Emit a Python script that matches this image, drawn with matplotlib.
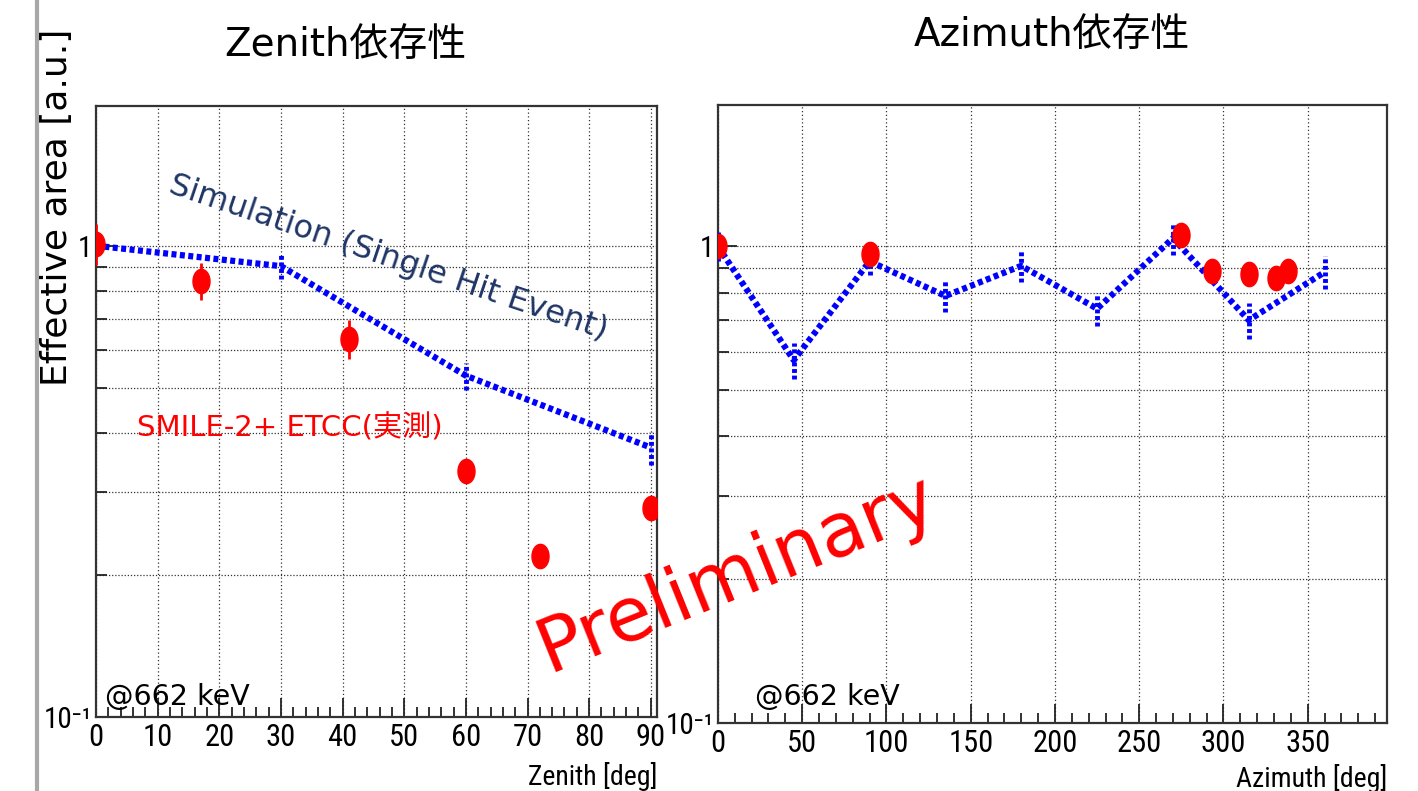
import numpy as np
import matplotlib
matplotlib.use("Agg")
import matplotlib.pyplot as plt
from matplotlib.path import Path
from matplotlib.lines import Line2D
from matplotlib.ticker import FixedLocator, FixedFormatter, NullFormatter

# ---- data ----
# zenith dependence
zen_meas_x = [0, 17, 41, 60, 72, 90]
zen_meas_y = [1.01, 0.843, 0.635, 0.332, 0.220, 0.277]
zen_meas_err = [0.10, 0.075, 0.06, 0.012, 0.010, 0.012]

zen_sim_x = [0, 30, 60, 90]
zen_sim_y = [1.00, 0.905, 0.53, 0.373]
zen_sim_err = [0.05, 0.055, 0.035, 0.03]

# azimuth dependence
azi_meas_x = [0, 90, 275, 293, 315, 331, 338]
azi_meas_y = [1.0, 0.966, 1.055, 0.886, 0.875, 0.857, 0.886]
azi_meas_err = [0.02, 0.02, 0.02, 0.02, 0.02, 0.02, 0.02]

azi_sim_x = [0, 45, 90, 135, 180, 225, 270, 315, 360]
azi_sim_y = [1.0, 0.577, 0.93, 0.787, 0.91, 0.74, 1.04, 0.70, 0.883]
azi_sim_err = [0.07, 0.05, 0.06, 0.06, 0.07, 0.06, 0.08, 0.06, 0.07]

zen_ticks = [0, 10, 20, 30, 40, 50, 60, 70, 80, 90]
azi_ticks = [0, 50, 100, 150, 200, 250, 300, 350]
y_major = [0.1, 1]
y_major_labels = ["10\u207b\u00b9", "1"]
y_minor = [0.2, 0.3, 0.4, 0.5, 0.6, 0.7, 0.8, 0.9]

# ---- styles ----
cjk = ["DejaVu Sans", "Noto Sans CJK JP"]
narrow = ["Liberation Sans Narrow", "Roboto Condensed", "DejaVu Sans"]
sim_ls = (0, (0.8, 0.55))

# red markers in the picture are tall ellipses
t = np.linspace(0, 2 * np.pi, 60)
ellipse = Path(np.column_stack([0.7 * np.cos(t), np.sin(t)]), closed=True)


def style_axes(ax, xmax, major, minor_step):
    ax.set_yscale("log")
    ax.set_xlim(0, xmax)
    ax.set_ylim(0.1, 1.98)
    ax.xaxis.set_major_locator(FixedLocator(major))
    ax.xaxis.set_minor_locator(FixedLocator(np.arange(0, xmax, minor_step)))
    ax.yaxis.set_major_locator(FixedLocator(y_major))
    ax.yaxis.set_major_formatter(FixedFormatter(y_major_labels))
    ax.yaxis.set_minor_locator(FixedLocator(y_minor))
    ax.yaxis.set_minor_formatter(NullFormatter())
    ax.tick_params(which="both", direction="in", top=False, right=False,
                   color="#222222", width=1.3)
    ax.tick_params(axis="x", which="major", length=14, pad=4)
    ax.tick_params(axis="x", which="minor", length=7)
    ax.tick_params(axis="y", which="major", length=14, pad=3)
    ax.tick_params(axis="y", which="minor", length=8)
    for lab in ax.get_xticklabels():
        lab.set_family(narrow)
        lab.set_stretch("condensed")
        lab.set_fontsize(22)
    for lab in ax.get_yticklabels():
        lab.set_family(narrow)
        lab.set_stretch("condensed")
        lab.set_fontsize(21)
    ax.grid(which="major", axis="x", ls=(0, (1, 2)), color="#333333", lw=0.9)
    ax.grid(which="both", axis="y", ls=(0, (1, 1.5)), color="#333333", lw=0.9)
    for s in ax.spines.values():
        s.set_color("#333333")
        s.set_linewidth(1.6)


def draw_sim(ax, x, y, err):
    eb = ax.errorbar(x, y, yerr=err, color="blue", lw=4.5, ls=sim_ls,
                     elinewidth=3.5, capsize=0, zorder=3)
    eb[2][0].set_linestyle(sim_ls)


def draw_meas(ax, x, y, err):
    ax.errorbar(x, y, yerr=err, fmt="none", ecolor="red", elinewidth=2,
                capsize=0, zorder=4)
    ax.plot(x, y, ls="none", marker=ellipse, ms=17.5, color="red", zorder=5)


fig = plt.figure(figsize=(14.18, 7.91), dpi=100)

# left panel: zenith
ax1 = fig.add_axes([0.0677, 0.0936, 0.3956, 0.7725])
style_axes(ax1, 91, zen_ticks, 2)
draw_sim(ax1, zen_sim_x, zen_sim_y, zen_sim_err)
draw_meas(ax1, zen_meas_x, zen_meas_y, zen_meas_err)

# right panel: azimuth
ax2 = fig.add_axes([0.5063, 0.086, 0.4718, 0.7813])
style_axes(ax2, 397, azi_ticks, 10)
draw_sim(ax2, azi_sim_x, azi_sim_y, azi_sim_err)
draw_meas(ax2, azi_meas_x, azi_meas_y, azi_meas_err)

# titles and labels
fig.text(0.2433, 0.943, "Zenith依存性", family=cjk, fontsize=28,
         ha="center", va="center")
fig.text(0.7419, 0.956, "Azimuth依存性", family=cjk, fontsize=28,
         ha="center", va="center")
fig.text(0.040, 0.738, "Effective area [a.u.]", fontsize=26,
         rotation=90, ha="center", va="center")
fig.text(0.4633, 0.037, "Zenith [deg]", family=narrow, stretch="condensed",
         fontsize=20, ha="right", va="top")
fig.text(0.978, 0.034, "Azimuth [deg]", family=narrow, stretch="condensed",
         fontsize=20, ha="right", va="top")

# annotations
fig.text(0.2736, 0.674, "Simulation (Single Hit Event)", fontsize=23,
         color="#1f3566", rotation=-18.6, ha="center", va="center")
fig.text(0.0966, 0.459, "SMILE-2+ ETCC(実測)", family=cjk, fontsize=21,
         color="red", ha="left", va="center")
fig.text(0.074, 0.119, "@662 keV", fontsize=20.5, ha="left", va="center")
fig.text(0.5324, 0.119, "@662 keV", fontsize=20.5, ha="left", va="center")
fig.text(0.5197, 0.2743, "Preliminary", fontsize=54, color="red",
         rotation=22, ha="center", va="center", zorder=10)

# grey edge of the slide on the left
fig.add_artist(Line2D([0.026, 0.026], [0, 1], color="#a8a8a8", lw=3,
                      transform=fig.transFigure))

fig.savefig("out.png", dpi=100, facecolor="white")
